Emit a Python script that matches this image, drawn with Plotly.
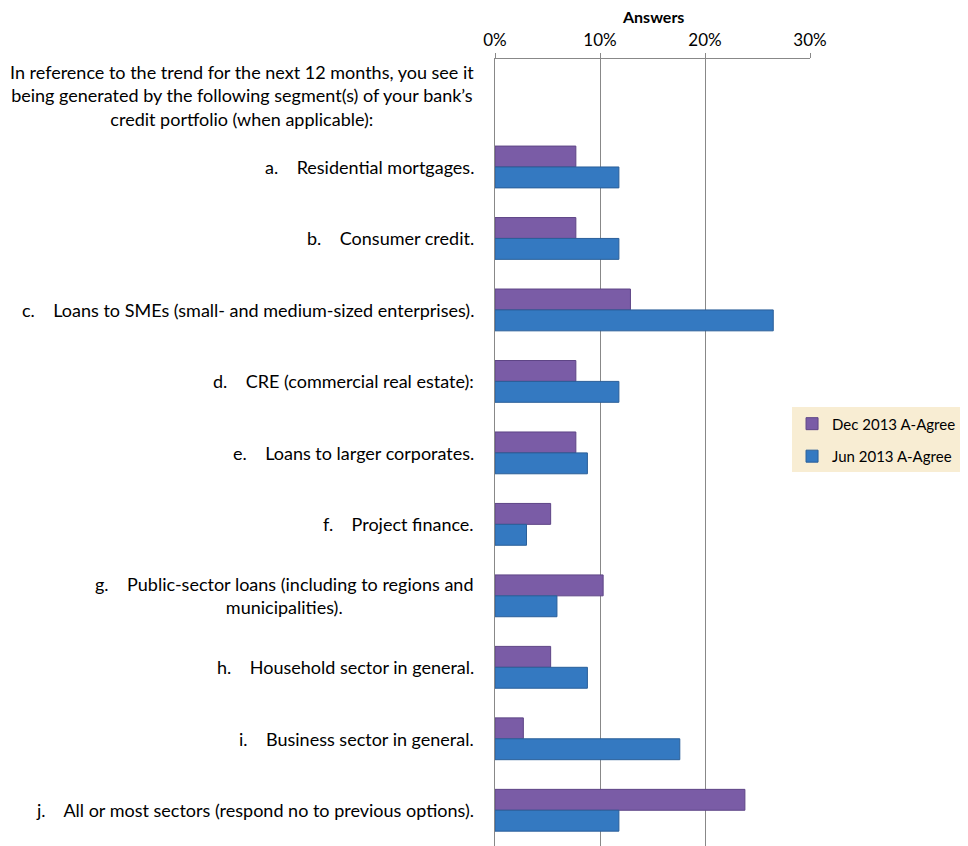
import plotly.graph_objects as go

NB = "\u00a0"
categories = [
    "In reference to the trend for the next 12 months, you see it<br>being generated by the following segment(s) of your bank’s<br>credit portfolio (when applicable):",
    "a." + NB * 4 + "Residential mortgages.",
    "b." + NB * 4 + "Consumer credit.",
    "c." + NB * 4 + "Loans to SMEs (small- and medium-sized enterprises).",
    "d." + NB * 4 + "CRE (commercial real estate):",
    "e." + NB * 4 + "Loans to larger corporates.",
    "f." + NB * 4 + "Project finance.",
    "g." + NB * 4 + "Public-sector loans (including to regions and<br>municipalities).",
    "h." + NB * 4 + "Household sector in general.",
    "i." + NB * 4 + "Business sector in general.",
    "j." + NB * 4 + "All or most sectors (respond no to previous options).",
]
dec_2013 = [None, 0.077, 0.077, 0.129, 0.077, 0.077, 0.053, 0.103, 0.053, 0.027, 0.238]
jun_2013 = [None, 0.118, 0.118, 0.265, 0.118, 0.088, 0.030, 0.059, 0.088, 0.176, 0.118]
series_names = ["Dec 2013 A-Agree", "Jun 2013 A-Agree"]
x_ticks = [0, 0.1, 0.2, 0.3]

FONT = "Lato"

fig = go.Figure()
fig.add_trace(go.Bar(y=categories, x=dec_2013, name=series_names[0], orientation="h",
                     legendgroup="dec",
                     marker=dict(color="#7A5CA6", line=dict(color="#5E4586", width=1))))
fig.add_trace(go.Bar(y=categories, x=jun_2013, name=series_names[1], orientation="h",
                     legendgroup="jun",
                     marker=dict(color="#3479C1", line=dict(color="#2A5F99", width=1))))

for c in categories:
    fig.add_annotation(x=0, y=c, xref="x", yref="y", text=c, showarrow=False,
                       xanchor="right", yanchor="middle", align="center", xshift=-19,
                       font=dict(family=FONT, size=18, color="#000"))

fig.add_annotation(x=0.5, y=1.0, xref="paper", yref="paper", yshift=43, text="<b>Answers</b>",
                   showarrow=False, xanchor="center", yanchor="middle",
                   font=dict(family=FONT, size=16, color="#000"))

fig.update_layout(
    width=960, height=838,
    margin=dict(l=487, r=158, t=51, b=0),
    paper_bgcolor="white", plot_bgcolor="white",
    barmode="group", bargap=0.415, bargroupgap=0,
    font=dict(family=FONT, size=16, color="#000"),
    xaxis=dict(range=[0, 0.3], side="top", tickvals=x_ticks, tickformat=".0%",
               showgrid=True, gridcolor="#888", gridwidth=1, showline=True, linecolor="#888",
               ticks="outside", ticklen=5, tickcolor="#888", zeroline=False,
               tickfont=dict(family=FONT, size=17)),
    yaxis=dict(autorange="reversed", showticklabels=False, showline=True, linecolor="#888",
               showgrid=False, zeroline=False, ticks=""),
    legend=dict(x=0.943, y=0.516, xanchor="left", yanchor="middle", bgcolor="#F8EDD3",
                font=dict(family=FONT, size=15), traceorder="grouped",
                itemwidth=30, tracegroupgap=10),
    showlegend=True,
)

fig.write_html("out.html")
